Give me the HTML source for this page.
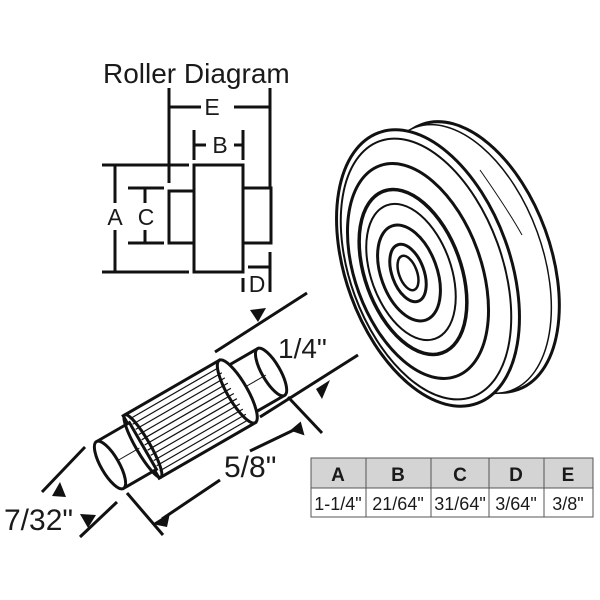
<!DOCTYPE html>
<html><head><meta charset="utf-8"><style>
html,body{margin:0;padding:0;background:#fff;}
svg{display:block;}
text{font-family:"Liberation Sans",Arial,sans-serif;fill:#1a1a1a;}
</style></head><body>
<svg width="600" height="600" viewBox="0 0 600 600" xmlns="http://www.w3.org/2000/svg">
<g stroke="#111" stroke-width="3" fill="none">
<line x1="169" y1="88" x2="169" y2="183"/><line x1="270" y1="88" x2="270" y2="188"/>
<line x1="169" y1="107" x2="201" y2="107"/><line x1="234" y1="107" x2="270" y2="107"/>
<line x1="194" y1="130" x2="194" y2="160"/><line x1="243" y1="130" x2="243" y2="160"/>
<line x1="194" y1="145" x2="206" y2="145"/><line x1="234" y1="145" x2="243" y2="145"/>
<rect x="194" y="165" width="49" height="107"/>
<rect x="169" y="191" width="25" height="52"/>
<rect x="243" y="188" width="28" height="55"/>
<line x1="102" y1="165" x2="189" y2="165"/><line x1="102" y1="272" x2="189" y2="272"/>
<line x1="115" y1="165" x2="115" y2="203"/><line x1="115" y1="230" x2="115" y2="272"/>
<line x1="128" y1="188" x2="164" y2="188"/><line x1="128" y1="243" x2="164" y2="243"/>
<line x1="145" y1="188" x2="145" y2="203"/><line x1="145" y1="230" x2="145" y2="243"/>
<line x1="243" y1="278" x2="243" y2="292"/><line x1="270" y1="252" x2="270" y2="292"/>
<line x1="248" y1="267" x2="270" y2="267"/>
</g>
<text x="103" y="83" font-size="28">Roller Diagram</text>
<text x="212" y="115" font-size="23" text-anchor="middle">E</text>
<text x="220" y="153" font-size="23" text-anchor="middle">B</text>
<text x="115" y="225" font-size="23" text-anchor="middle">A</text>
<text x="146" y="225" font-size="23" text-anchor="middle">C</text>
<text x="257" y="292" font-size="23" text-anchor="middle">D</text>

<!-- wheel -->
<g fill="#fff" stroke="#111" stroke-width="3">
<ellipse cx="470" cy="257" rx="80" ry="141" transform="rotate(-20 470 257)"/>
<ellipse cx="463" cy="259" rx="79" ry="140" transform="rotate(-20 463 259)" stroke-width="1.5"/>
<ellipse cx="428" cy="268" rx="82" ry="144" transform="rotate(-20 428 268)"/>
<ellipse cx="426" cy="269" rx="76" ry="136" transform="rotate(-20 426 269)" stroke-width="2"/>
<ellipse cx="418" cy="271" rx="63" ry="112" transform="rotate(-20 418 271)"/>
<ellipse cx="413" cy="272" rx="48" ry="86" transform="rotate(-20 413 272)" stroke-width="3.5"/>
<ellipse cx="411" cy="272" rx="40" ry="71" transform="rotate(-20 411 272)" stroke-width="2"/>
<ellipse cx="409" cy="273" rx="28" ry="50" transform="rotate(-20 409 273)" stroke-width="3"/>
<ellipse cx="408" cy="273" rx="16" ry="30" transform="rotate(-20 408 273)" stroke-width="3"/>
<ellipse cx="408" cy="273" rx="9" ry="18" transform="rotate(-20 408 273)" stroke-width="2.5"/>
</g>
<path d="M480 170 Q508 210 522 235" stroke="#111" stroke-width="1" fill="none"/>

<!-- shaft -->
<g transform="translate(110,465) rotate(-30)" stroke="#111" stroke-width="3" fill="#fff">
<rect x="145" y="-27" width="41" height="54"/>
<ellipse cx="186" cy="0" rx="9" ry="27"/>
<line x1="150" y1="0" x2="180" y2="0" stroke-width="1"/>
<rect x="36" y="-36" width="111" height="72"/>
<ellipse cx="147" cy="0" rx="10" ry="36"/>
<g stroke-width="1.2">
<line x1="40" y1="-30" x2="143" y2="-30"/><line x1="40" y1="-24" x2="143" y2="-24"/>
<line x1="40" y1="-18" x2="143" y2="-18"/><line x1="40" y1="-12" x2="143" y2="-12"/>
<line x1="40" y1="-6" x2="143" y2="-6"/><line x1="40" y1="0" x2="143" y2="0"/>
<line x1="40" y1="6" x2="143" y2="6"/><line x1="40" y1="12" x2="143" y2="12"/>
<line x1="40" y1="18" x2="143" y2="18"/><line x1="40" y1="24" x2="143" y2="24"/>
<line x1="40" y1="30" x2="143" y2="30"/>
</g>
<rect x="0" y="-27" width="38" height="54"/>
<ellipse cx="0" cy="0" rx="9" ry="27"/>
<line x1="10" y1="0" x2="34" y2="0" stroke-width="1"/>
<ellipse cx="38" cy="0" rx="7" ry="36" fill="none"/>
</g>

<!-- dimension lines -->
<g stroke="#111" stroke-width="3" fill="none">
<line x1="215" y1="352" x2="307" y2="293"/>
<line x1="260" y1="417" x2="358" y2="355"/>
<line x1="288" y1="397" x2="322" y2="433"/>
<line x1="250" y1="451" x2="300" y2="427"/>
<line x1="127" y1="493" x2="163" y2="535"/>
<line x1="220" y1="480" x2="162" y2="519"/>
<line x1="42" y1="492" x2="85" y2="447"/>
<line x1="80" y1="537" x2="117" y2="502"/>
</g>
<g fill="#111">
<polygon points="250,310 266,308 258,322"/>
<polygon points="316,389 330,380 322,399"/>
<polygon points="306,424 292,424 300,437" transform="rotate(-40 300 430)"/>
<polygon points="152,524 170,513 167,527"/>
<polygon points="52,496 60,482 66,497"/>
<polygon points="80,514 96,515 88,528"/>
</g>
<text x="278" y="358" font-size="28">1/4"</text>
<text x="224" y="477" font-size="30">5/8"</text>
<text x="4" y="530" font-size="30">7/32"</text>

<!-- table -->
<rect x="311" y="458" width="282" height="30" fill="#d4d4d4"/>
<g stroke="#555" stroke-width="1" fill="none">
<rect x="311" y="458" width="282" height="59"/>
<line x1="311" y1="488" x2="593" y2="488"/>
<line x1="366" y1="458" x2="366" y2="517"/><line x1="431" y1="458" x2="431" y2="517"/>
<line x1="489" y1="458" x2="489" y2="517"/><line x1="544" y1="458" x2="544" y2="517"/>
</g>
<g font-size="19" font-weight="bold" text-anchor="middle">
<text x="338" y="481">A</text><text x="398" y="481">B</text><text x="460" y="481">C</text><text x="516" y="481">D</text><text x="568" y="481">E</text>
</g>
<g font-size="18" text-anchor="middle">
<text x="338" y="510">1-1/4"</text><text x="398" y="510">21/64"</text><text x="460" y="510">31/64"</text><text x="516" y="510">3/64"</text><text x="568" y="510">3/8"</text>
</g>
</svg>
</body></html>
